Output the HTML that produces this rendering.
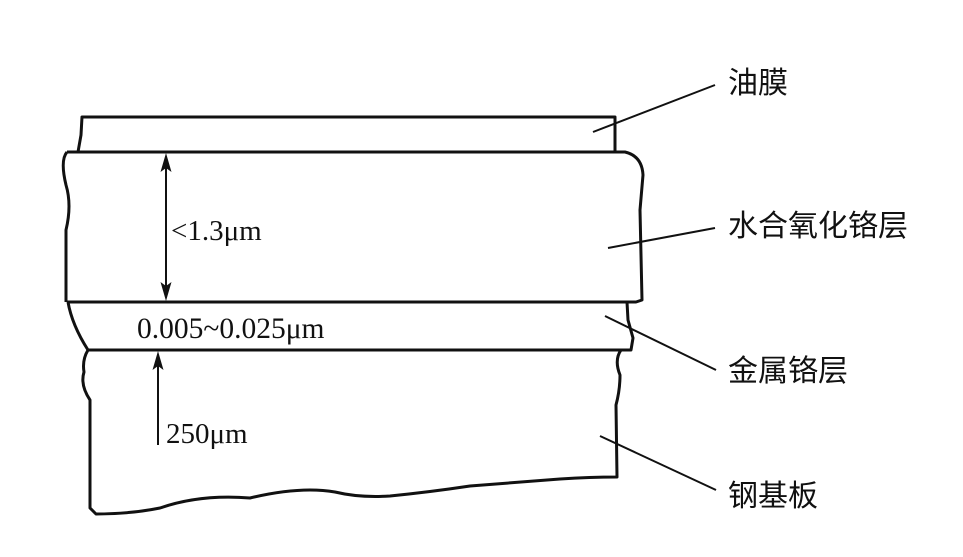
<!DOCTYPE html>
<html><head><meta charset="utf-8"><style>
html,body{margin:0;padding:0;background:#fff;}
svg text{font-family:"Liberation Serif","Noto Serif CJK SC",serif;fill:#111;}
.cn{font-family:"Liberation Sans","Noto Sans CJK SC",sans-serif;font-size:30px;}
</style></head><body>
<svg width="963" height="552" viewBox="0 0 963 552" xmlns="http://www.w3.org/2000/svg">
<g fill="none" stroke="#111" stroke-width="3" stroke-linejoin="round">
<path d="M78,152 L81,135 L82,117 L615,117 L615,152"/>
<path d="M67,152 L625,152 Q642,156 643,175 L640,210 L642,300 L636,302 L67,302"/>
<path d="M67,152 Q60,160 66,185 Q72,205 66,230 L66,302"/>
<path d="M68,302 Q72,325 88,350 L631,350 L633,338 L628,320 L627,302"/>
<path d="M88,350 L621,350 Q614,360 620,375 Q620,390 616,405 L617,477 Q590,477 560,479 Q520,482 470,486 Q430,492 390,496 Q360,498 335,492 Q300,486 250,498 Q200,494 160,508 Q130,514 96,514 L90,508 L90,400 Q80,385 84,372 Q82,360 88,350"/>
</g>
<g stroke="#111" stroke-width="2">
<line x1="166" y1="160" x2="166" y2="294"/>
<line x1="158" y1="445" x2="158" y2="360"/>
<line x1="593" y1="132" x2="715" y2="85"/>
<line x1="608" y1="248" x2="715" y2="228"/>
<line x1="605" y1="316" x2="716" y2="370"/>
<line x1="600" y1="436" x2="716" y2="490"/>
</g>
<g fill="#111">
<path d="M166,153 L171.5,172 L166,168 L160.5,172 Z"/>
<path d="M166,301 L171.5,282 L166,286 L160.5,282 Z"/>
<path d="M158,351 L163.5,370 L158,366 L152.5,370 Z"/>
</g>
<text x="171" y="240" font-size="29">&lt;1.3μm</text>
<text x="137" y="338" font-size="29.5">0.005~0.025μm</text>
<text x="166" y="443" font-size="29">250μm</text>
<text class="cn" x="728" y="93">油膜</text>
<text class="cn" x="728" y="236">水合氧化铬层</text>
<text class="cn" x="728" y="381">金属铬层</text>
<text class="cn" x="728" y="506">钢基板</text>
</svg>
</body></html>
